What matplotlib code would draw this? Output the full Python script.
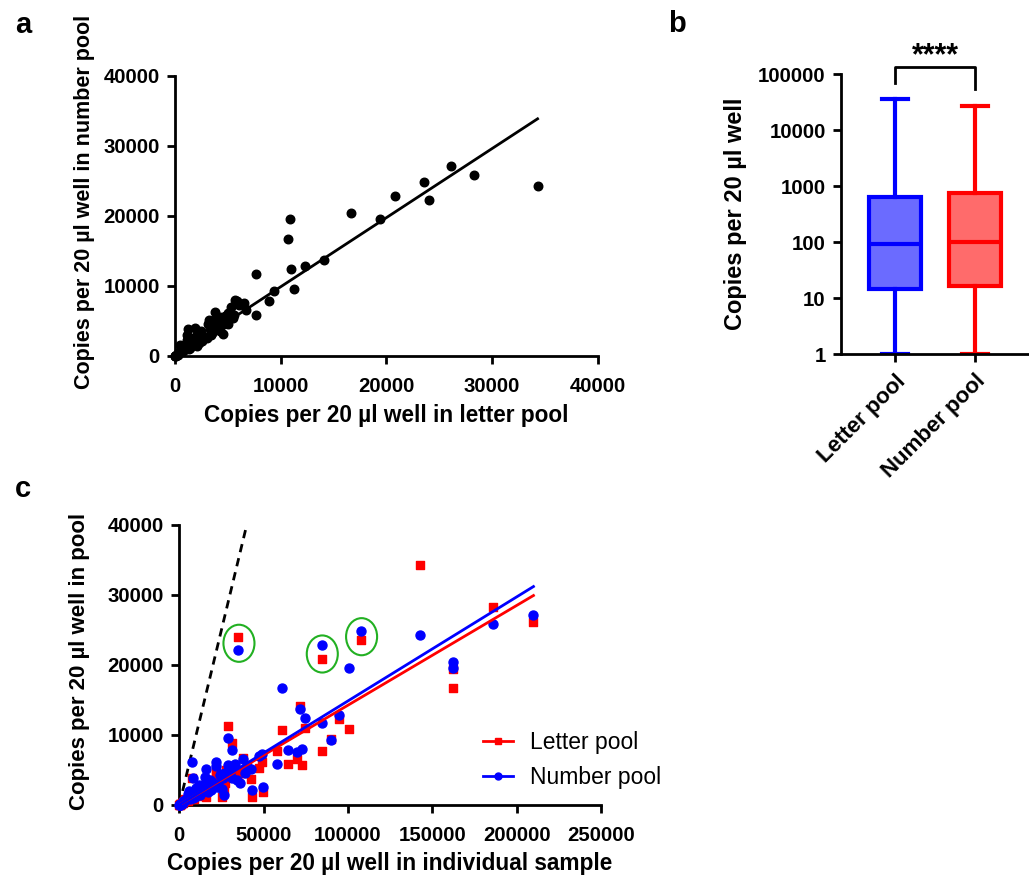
import matplotlib
matplotlib.use("Agg")
import matplotlib.pyplot as plt
from matplotlib.patches import Ellipse
import numpy as np

plt.rcParams['font.family'] = ['Liberation Sans', 'DejaVu Sans']
plt.rcParams['font.weight'] = 'bold'

# one row per sample: copies in individual sample, letter pool, number pool
individual = [210000, 186000, 143000, 162000, 162000, 108000, 84800, 34600,
              100800, 61000, 74500, 94700, 71600, 29000, 90100, 31000,
              84800, 58100, 38000, 64300, 69600, 72600, 48900, 47000,
              49800, 42900, 7400, 15600, 21500, 21800, 42300, 28700,
              36000, 40000, 38900, 34000, 26500, 24100, 27100, 18200,
              15200, 8300, 22200, 16000, 20000, 12000, 14000, 10000,
              6000, 9000, 5000, 11000, 13000, 7000, 4000, 3000,
              8000, 2500, 2000, 1500, 1000, 700, 500, 300,
              200, 100, 6500, 12500, 17000, 19000, 23000, 26000,
              31500, 5500, 9500, 3500, 25500, 19500, 24500, 27500,
              30500, 33000, 16500, 13500]
letter_pool = [26100, 28300, 34300, 16700, 19400, 23600, 20800, 24000,
               10900, 10700, 11000, 12300, 14100, 11300, 9400, 8900,
               7700, 7700, 6700, 5900, 6500, 5700, 6100, 5300,
               1800, 1200, 3800, 3200, 5000, 4300, 3700, 4700,
               4500, 5500, 4600, 4300, 2100, 3600, 3100, 2500,
               1900, 1200, 3000, 1100, 2700, 2000, 1500, 1800,
               1400, 900, 500, 2200, 1600, 1000, 700, 600,
               1300, 400, 300, 250, 150, 100, 80, 40,
               30, 15, 900, 1300, 2300, 2600, 3400, 3300,
               4000, 1100, 1400, 800, 1100, 3500, 4000, 5000,
               4800, 5600, 2900, 2400]
number_pool = [27100, 25800, 24300, 20400, 19600, 24900, 22900, 22200,
               19600, 16700, 12400, 12800, 13700, 9600, 9300, 7900,
               11700, 5900, 6500, 7900, 7500, 8000, 7300, 7000,
               2500, 2100, 6200, 5200, 6100, 5500, 5100, 5700,
               3100, 5400, 4500, 3600, 1400, 4300, 4600, 3500,
               4000, 3800, 2600, 3000, 2600, 2800, 2100, 2400,
               2000, 1600, 1500, 1900, 1700, 1200, 900, 600,
               1000, 500, 350, 200, 180, 120, 60, 50,
               25, 12, 800, 1400, 1800, 2200, 3000, 3900,
               3800, 1300, 1100, 700, 2300, 3300, 4400, 4600,
               5000, 5800, 2700, 2300]

# fitted lines (slope through origin)
fit_a_slope = 0.987
fit_letter_slope = 0.1425
fit_number_slope = 0.1486

# highlighted samples in panel c (individual, pool centre)
circled_x = [35400, 84800, 108100]
circled_y = [23100, 21570, 24040]

# box plot summary (panel b)
box_labels = ["Letter pool", "Number pool"]
box_min = [1, 1]
box_q1 = [14.3, 16.6]
box_median = [92, 99]
box_q3 = [644, 759]
box_max = [35300, 26900]

RED = '#ff0000'
BLUE = '#0000ff'


def style_axis(ax):
	for s in ['top', 'right']:
		ax.spines[s].set_visible(False)
	for s in ['left', 'bottom']:
		ax.spines[s].set_linewidth(2.0)
	ax.tick_params(direction='out', length=6, width=2.0, labelsize=14.7)
	ax.tick_params(axis='x', pad=9)
	ax.tick_params(axis='y', pad=5)
	for lab in ax.get_xticklabels() + ax.get_yticklabels():
		lab.set_fontweight('bold')


fig = plt.figure(figsize=(10.29, 8.81), dpi=100)

# ---- panel a
axA = fig.add_axes([0.170, 0.596, 0.411, 0.318])
axA.scatter(letter_pool, number_pool, s=38, color='black', zorder=3, clip_on=False)
xa = np.array([0, max(letter_pool)])
axA.plot(xa, fit_a_slope * xa, color='black', lw=2, zorder=2)
axA.set_xlim(0, 40000)
axA.set_ylim(0, 40000)
axA.set_xticks([0, 10000, 20000, 30000, 40000])
axA.set_yticks([0, 10000, 20000, 30000, 40000])
axA.set_xlabel("Copies per 20 µl well in letter pool", fontsize=16.3, fontweight='bold', labelpad=6)
axA.set_ylabel("Copies per 20 µl well in number pool", fontsize=15.5, fontweight='bold', va='center')
axA.yaxis.set_label_coords(-0.215, 0.548)
style_axis(axA)

# ---- panel b
axB = fig.add_axes([0.8173, 0.598, 0.1827, 0.318])
stats = []
for i in range(2):
	stats.append(dict(med=box_median[i], q1=box_q1[i], q3=box_q3[i],
	                  whislo=box_min[i], whishi=box_max[i], fliers=[], label=box_labels[i]))
bp = axB.bxp(stats, positions=[1, 2], widths=0.66, patch_artist=True, showfliers=False)
box_face = ['#6b6bff', '#ff6b6b']
box_edge = [BLUE, RED]
for i in range(2):
	bp['boxes'][i].set(facecolor=box_face[i], edgecolor=box_edge[i], linewidth=3)
	bp['medians'][i].set(color=box_edge[i], linewidth=3)
	for w in bp['whiskers'][2 * i:2 * i + 2]:
		w.set(color=box_edge[i], linewidth=3)
	for c in bp['caps'][2 * i:2 * i + 2]:
		c.set(color=box_edge[i], linewidth=3)
		c.set_xdata([i + 1 - 0.16, i + 1 + 0.16])
axB.set_yscale('log')
axB.set_ylim(1, 100000)
axB.set_xlim(0.325, 2.675)
axB.set_yticks([1, 10, 100, 1000, 10000, 100000])
axB.set_yticklabels(['1', '10', '100', '1000', '10000', '100000'])
axB.minorticks_off()
axB.set_xticks([1, 2])
axB.set_xticklabels(box_labels, rotation=45, ha='right', rotation_mode='anchor')
axB.set_ylabel("Copies per 20 µl well", fontsize=17, fontweight='bold', va='center')
axB.yaxis.set_label_coords(-0.559, 0.5)
style_axis(axB)
axB.tick_params(axis='x', pad=6, labelsize=16)
axB.plot([1, 1, 2, 2], [69000, 135000, 135000, 54000], color='black', lw=2, clip_on=False)
axB.text(1.5, 210000, "****", ha='center', va='center', fontsize=22, fontweight='bold')

# ---- panel c
axC = fig.add_axes([0.1742, 0.0863, 0.4098, 0.3178])
axC.plot([0, 40000], [0, 40000], color='black', lw=2, ls=(0, (3, 2.2)), zorder=1)
axC.scatter(individual, letter_pool, marker='s', s=40, color=RED, zorder=3, clip_on=False)
axC.scatter(individual, number_pool, marker='o', s=42, color=BLUE, zorder=4, clip_on=False)
xc = np.array([0, max(individual)])
axC.plot(xc, fit_letter_slope * xc, color=RED, lw=2, zorder=5)
axC.plot(xc, fit_number_slope * xc, color=BLUE, lw=2, zorder=5)
for cx, cy in zip(circled_x, circled_y):
	axC.add_patch(Ellipse((cx, cy), 18400, 5300, fill=False, edgecolor='#22b022', lw=1.5, zorder=6))
axC.set_xlim(0, 250000)
axC.set_ylim(0, 40000)
axC.set_xticks([0, 50000, 100000, 150000, 200000, 250000])
axC.set_yticks([0, 10000, 20000, 30000, 40000])
axC.set_xlabel("Copies per 20 µl well in individual sample", fontsize=16.3, fontweight='bold', labelpad=5)
axC.set_ylabel("Copies per 20 µl well in pool", fontsize=16, fontweight='bold', va='center')
axC.yaxis.set_label_coords(-0.2355, 0.514)
style_axis(axC)

hL, = axC.plot([], [], color=RED, lw=2, marker='s', ms=5)
hN, = axC.plot([], [], color=BLUE, lw=2, marker='o', ms=5)
axC.legend([hL, hN], ["Letter pool", "Number pool"], loc='center left',
           bbox_to_anchor=(0.72, 0.161), frameon=False, borderpad=0, borderaxespad=0,
           handlelength=1.3, handletextpad=0.75, labelspacing=0.55,
           prop={'size': 16.5, 'weight': 'normal'})

# panel letters
fig.text(0.0146, 0.9625, "a", fontsize=21, fontweight='bold')
fig.text(0.649, 0.964, "b", fontsize=21, fontweight='bold')
fig.text(0.0146, 0.436, "c", fontsize=21, fontweight='bold')

fig.savefig("out.png", dpi=100)
